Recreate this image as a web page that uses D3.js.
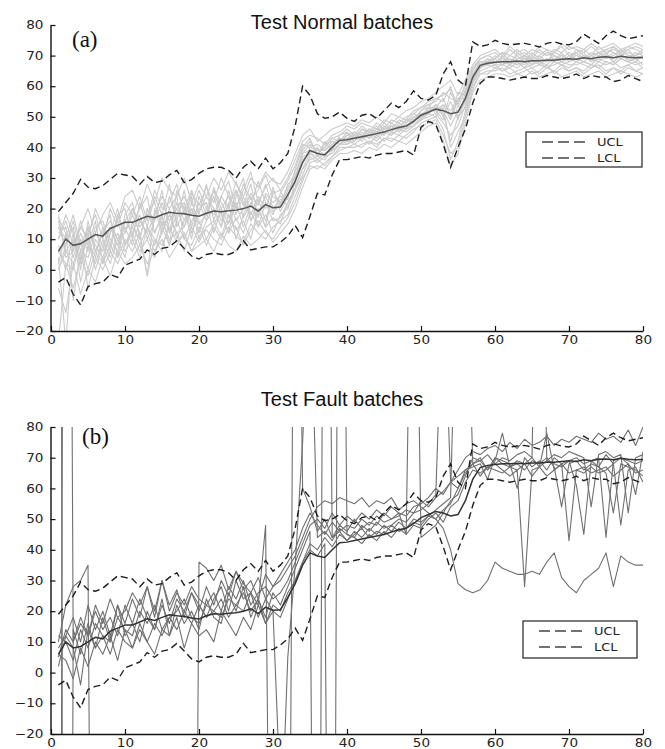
<!DOCTYPE html>
<html>
<head>
<meta charset="utf-8">
<script src="https://cdn.jsdelivr.net/npm/d3@7"></script>
<style>
  html, body { margin: 0; padding: 0; background: #fff; }
  svg { display: block; }
</style>
</head>
<body>
<svg id="chart" width="665" height="749"></svg>
<script>
// Sample index 1..80
const sampleIndex = d3.range(1, 81);
const xTicks = [0, 10, 20, 30, 40, 50, 60, 70, 80];
const yTicks = [-20, -10, 0, 10, 20, 30, 40, 50, 60, 70, 80];

// Mean trajectory of the reference batches
const meanTrajectory = [6,10,8,8.5,10,11.5,11,13.5,14.5,15.5, 15.5,16.5,17.5,17,18,18.8,18.5,18.3,17.8,17.5,
  18.5,19.2,19,19.3,19.5,20,20.8,19.2,21.3,20.3, 20.5,24.5,29,35,39,38,37.5,40,42.3,42.5,
  43,43.5,44,44.5,45,45.8,46.5,47,48.5,50.5, 51.5,52.5,52,51,51.5,56,63,66.8,67.5,67.8,
  68,68,68.2,68,68.3,68.3,68.5,68.5,68.8,69, 68.8,69.3,69,69.5,69.6,69.3,69.8,69.5,69.3,69.4];

// Upper and lower control limits
const ucl = [19,22,25,29.5,27,26.5,27.5,29.5,31.5,31, 30.5,28,30.5,28.5,29,31,32.5,28.5,29.5,31.5,
  33,33.5,33.5,32.5,30,33.5,35.5,33,36.5,33, 35,38,47,60,57,51,49.5,50,51.5,49.5,
  48.5,50.5,51,49.5,52,54.5,53,55,58.5,56, 55.5,57,64,68,62,60,74.5,73,73.5,75,
  74,73.5,73.8,74,73.5,72.8,74,74.5,73.8,73.5, 74.5,77,75.5,74,76.5,78,76.5,75.5,76,76.5];
const lcl = [-4,-2.5,-8,-11.5,-5.5,-4.5,-4,-1.5,-2.5,1.5, 2.5,3.5,6.5,5,7,7.5,9.5,7,4.5,3.5,
  5,5.5,5,5,6,9.5,6.5,7,7.5,7.5, 9,11,14.5,10.5,17.5,25,24.5,31,36,36,
  36.5,37,36.5,37.5,38,38,38.5,39,37.5,46.5, 48.5,47.5,41,33.5,40,46,54.5,61,63,63,
  62.5,62,62.5,63,62.5,62.5,63.5,63,62.5,63, 64,62.5,63.5,63,63,61.5,62,63.5,62.5,61.5];

// Normal test batches
const nb01 = [14,8,16,6,12,18,10,20,14,22, 18,24,16,26,20,22,28,18,25,21, 27,22,30,24,20,28,23,26,31,24,
  22,27,32,38,41,39,40,43,44,46, 44,47,45,48,46,49,48,50,51,53, 54,55,58,56,55,60,65,69,70,71,
  69,72,70,71,69,72,70,71,73,70, 71,72,70,73,71,72,71,73,72,71];
const nb02 = [-24,2,-6,4,-2,6,2,8,4,10, 6,12,-2,10,8,14,9,12,6,11, 13,10,8,14,11,9,15,12,10,14,
  16,18,24,30,34,33,35,37,40,40, 41,40,42,41,43,42,44,43,45,48, 49,50,46,36,42,52,60,64,65,65,
  66,64,65,66,64,65,67,64,66,65, 66,65,67,66,64,66,65,67,65,64];
const nb03 = [4,-24,10,2,14,8,4,12,16,8, 14,10,20,12,17,13,22,16,20,15, 18,24,16,21,26,17,22,18,24,19,
  21,26,30,36,38,40,37,41,43,42, 45,43,46,44,47,45,48,46,49,50, 52,54,50,55,49,58,64,67,68,69,
  67,69,68,67,70,68,67,69,68,70, 69,68,70,69,71,68,70,69,71,70];
const nb04 = [12,14,4,12,6,14,16,8,18,12, 20,14,18,22,14,24,16,26,14,22, 16,27,20,15,26,21,28,17,25,22,
  24,23,33,40,43,37,42,39,44,45, 43,46,44,47,44,48,46,49,48,52, 53,56,55,60,50,55,62,66,69,67,
  70,67,71,69,67,70,72,68,70,69, 70,71,68,70,72,71,69,70,70,72];
const nb05 = [8,0,12,-4,8,2,10,4,12,6, 10,4,14,8,16,10,12,6,14,9, 14,16,11,18,13,16,10,20,14,17,
  15,22,27,33,36,37,36,39,41,41, 42,44,41,44,42,45,44,46,47,49, 50,51,48,44,47,54,61,65,66,67,
  65,67,66,68,66,67,66,68,67,66, 68,67,66,68,67,68,66,67,68,66];
const nb06 = [16,6,2,10,0,10,6,14,8,16, 12,18,10,16,22,16,20,24,18,26, 20,18,24,20,29,22,18,24,20,27,
  19,24,31,35,40,41,39,42,41,44, 43,45,43,46,45,47,45,48,50,51, 52,53,56,50,58,57,64,68,68,70,
  68,70,69,70,68,69,71,70,69,71, 70,69,71,70,69,70,72,70,69,70];
const nb07 = [2,12,-10,6,4,12,8,2,10,14, 8,16,12,6,12,18,12,14,22,16, 10,15,19,12,17,12,19,14,18,12,
  18,20,26,31,37,35,37,38,41,43, 41,43,44,42,45,44,46,45,47,49, 51,50,53,40,45,50,63,66,67,66,
  67,66,68,66,67,68,66,67,68,67, 67,68,67,66,68,67,69,68,67,68];
const nb08 = [10,16,8,14,10,4,14,10,6,18, 22,10,20,16,26,12,18,22,12,19, 24,20,14,26,18,24,16,23,16,25,
  26,20,29,38,39,38,41,42,42,44, 45,44,46,45,48,46,49,48,51,50, 53,52,49,58,53,59,66,68,67,69,
  71,68,70,68,71,69,68,71,70,69, 72,70,69,71,70,73,70,71,70,69];
const nb09 = [0,8,14,0,16,6,12,16,10,12, 18,12,-2,20,12,20,24,10,16,20, 22,12,20,24,16,20,25,21,28,20,
  23,25,28,37,38,36,38,40,43,41, 44,42,45,43,46,47,45,47,48,51, 51,54,52,47,52,56,62,67,69,68,
  69,68,67,69,69,67,69,68,71,68, 69,70,68,69,70,69,71,68,70,71];
const nb10 = [18,4,6,16,8,16,2,12,20,8, 14,20,24,12,18,8,26,20,10,24, 18,26,22,17,22,14,21,29,22,18,
  25,29,34,41,40,39,39,41,42,45, 42,46,45,44,47,45,47,49,49,52, 54,51,54,52,56,58,64,67,68,68,
  68,69,67,70,69,70,68,69,69,69, 71,69,70,71,69,71,70,72,69,70];
const nb11 = [17,12,6,14,20,12,18,22,16,24, 26,20,28,22,30,26,24,30,22,28, 24,30,26,32,28,24,30,27,32,29,
  28,32,38,44,46,42,44,46,47,48, 47,49,48,50,48,51,50,52,53,55, 56,58,60,62,57,62,67,70,71,72,
  70,73,71,72,70,73,72,71,74,72, 73,72,74,72,73,74,72,73,74,73];
const nb12 = [-6,-14,2,-8,0,-4,4,-2,6,2, 4,8,2,6,10,4,8,12,6,8, 10,6,12,8,6,11,8,10,13,9,
  12,15,20,27,33,34,33,36,38,38, 39,38,40,39,41,40,42,41,43,45, 47,48,42,34,38,48,58,62,63,64,
  64,63,64,63,65,63,64,65,63,64, 65,63,64,65,63,64,65,64,63,64];
const nb13 = [10,18,12,4,10,20,14,6,18,20, 10,22,14,24,18,28,14,20,26,18, 28,16,24,29,20,26,32,22,27,30,
  26,30,36,42,44,43,41,44,45,47, 46,48,47,46,49,48,50,49,52,53, 55,56,57,59,54,61,66,69,70,69,
  71,70,72,70,72,71,70,72,71,73, 72,71,73,71,72,73,71,72,73,72];
const nb14 = [6,2,0,10,-6,4,0,6,2,8, 12,6,10,4,14,8,16,10,8,14, 8,14,10,16,14,8,13,16,12,10,
  14,17,22,29,35,36,34,37,39,40, 40,41,42,40,43,43,42,44,46,47, 48,49,44,38,40,50,59,64,64,66,
  65,66,64,65,66,64,66,65,67,65, 66,64,66,67,65,66,64,66,65,66];
const nb15 = [14,10,18,8,14,6,12,18,4,16, 20,16,12,18,24,20,10,16,24,12, 20,26,18,12,24,30,16,20,14,26,
  21,28,30,39,42,38,40,43,42,43, 44,43,46,45,44,47,47,46,50,49, 53,52,54,49,56,56,63,67,67,68,
  68,67,69,70,67,69,68,70,68,69, 68,70,69,68,70,68,70,69,68,70];
const nb16 = [0,6,10,2,12,0,8,14,10,4, 16,8,14,10,6,16,20,14,20,10, 16,20,14,22,10,18,24,14,22,16,
  17,22,26,33,38,37,38,39,41,42, 42,44,43,45,46,44,46,47,47,50, 51,53,51,42,50,53,61,66,68,67,
  67,68,68,66,69,67,69,68,67,68, 69,68,67,69,68,67,69,68,69,67];
const normalBatches = [nb01, nb02, nb03, nb04, nb05, nb06, nb07, nb08,
  nb09, nb10, nb11, nb12, nb13, nb14, nb15, nb16];

// Faulty test batches (large magnitudes run off the plotted range)
const fb01 = [8,12,18,10,22,14,20,12,22,16, 24,18,28,20,30,22,27,18,26,20, 28,22,30,25,33,27,30,24,32,28,
  30,34,38,44,50,54,56,55,57,56, 55,57,54,56,55,57,53,55,56,54, 52,50,47,40,29,27,26,27,30,36,
  34,33,32,32,33,32,36,39,31,28, 26,30,32,34,39,28,38,36,35,35];
const fb02 = [10,22,28,30,35,-300,-320,-310,-330,-300, -310,-320,-300,-330,-310,-300,-320,-310,-300,36,
  34,30,35,27,33,29,26,31,24,28, 32,36,40,47,52,48,45,49,46,48, 47,50,48,51,49,50,52,51,54,55,
  57,60,58,62,66,70,72,71,73,74, 72,75,73,76,74,75,77,74,76,75, 77,76,75,78,76,77,75,79,74,80];
const fb03 = [5,14,10,16,12,20,14,18,12,22, 16,24,18,14,22,16,24,20,26,22, 18,24,28,20,30,24,26,22,48,-200,
  -60,5,35,75,130,44,46,43,47,45, 44,48,46,49,47,48,50,49,52,53, 55,58,130,62,60,66,68,69,66,70,
  68,67,69,68,70,67,69,68,67,69, 70,68,69,67,71,68,70,69,68,69];
const fb04 = [2,12,8,-4,14,8,18,10,22,12, 16,10,20,14,24,12,22,16,20,14, 24,18,16,26,20,28,18,24,16,22,
  20,26,30,36,40,38,42,-300,300,45, 44,42,45,43,46,44,47,45,48,47, 50,52,49,54,56,62,66,65,67,68,
  66,64,66,28,66,67,64,66,68,65, 66,67,65,66,67,64,66,68,65,66];
const fb05 = [600,-600,14,6,16,8,12,6,14,10, 8,14,10,16,12,18,14,20,16,22, 18,20,24,18,22,26,20,24,18,26,
  22,28,34,40,46,-300,300,44,46,43, 45,47,44,46,45,48,46,47,49,48, 51,50,53,55,60,65,68,64,67,66,
  65,67,66,68,64,67,78,66,68,43, 66,65,67,65,66,68,48,66,67,62];
const fb06 = [-400,500,10,18,12,22,16,24,18,20, 26,22,28,18,30,20,26,22,28,24, 22,26,20,28,24,30,22,26,28,24,
  26,30,36,42,48,50,47,52,48,51, 49,52,50,53,51,54,52,45,200,44, 46,48,52,56,58,64,70,69,71,68,
  70,69,71,72,70,200,69,71,70,72, 71,70,54,71,72,70,71,52,70,71];
const fb07 = [6,4,-2,8,2,10,6,12,4,14, 8,16,10,6,14,12,18,8,16,12, 14,10,20,16,12,18,14,22,16,20,
  18,24,30,36,42,40,44,41,45,43, 46,44,47,45,48,46,49,47,50,49, 51,53,55,57,150,150,68,70,66,69,
  78,67,68,66,69,68,70,67,54,68, 69,66,68,67,65,52,68,67,66,64];
const fb08 = [12,10,4,14,8,16,12,10,18,14, 12,20,16,22,14,18,20,24,18,16, 22,20,18,24,22,20,26,18,24,20,
  -40,-200,250,60,54,46,50,44,48,46, 50,47,49,48,52,50,51,53,52,56, 54,57,59,62,64,66,67,68,63,70,
  69,68,60,70,67,69,66,70,68,69, 61,45,69,70,44,69,70,68,58,72];
const faultBatches = [fb01, fb02, fb03, fb04, fb05, fb06, fb07, fb08];

const svg = d3.select("#chart");
const x = d3.scaleLinear().domain([0, 80]).range([51, 643]);

function drawPanel(cfg) {
  const y = d3.scaleLinear().domain([-20, 80]).range([cfg.bottom, cfg.top]);
  const g = svg.append("g");
  const clipId = "clip-" + cfg.id;
  svg.append("defs").append("clipPath").attr("id", clipId)
    .append("rect").attr("x", x(0)).attr("y", cfg.top)
    .attr("width", x(80) - x(0)).attr("height", cfg.bottom - cfg.top);

  const line = d3.line().x((d, i) => x(sampleIndex[i])).y(d => y(d));
  const plot = g.append("g").attr("clip-path", `url(#${clipId})`);

  cfg.batches.forEach(b => {
    plot.append("path").attr("d", line(b)).attr("fill", "none")
      .attr("stroke", cfg.batchColor).attr("stroke-width", cfg.batchWidth)
      .attr("stroke-linejoin", "round");
  });
  plot.append("path").attr("d", line(meanTrajectory)).attr("fill", "none")
    .attr("stroke", cfg.meanColor).attr("stroke-width", 1.5);
  [ucl, lcl].forEach(lim => {
    plot.append("path").attr("d", line(lim)).attr("fill", "none")
      .attr("stroke", "#1e1e1e").attr("stroke-width", 1.4)
      .attr("stroke-dasharray", "7,4");
  });

  // Axes with inward ticks
  const yAxis = d3.axisLeft(y).tickValues(yTicks).tickSize(-5).tickSizeOuter(0).tickPadding(7);
  const xAxis = d3.axisBottom(x).tickValues(xTicks).tickSize(-5).tickSizeOuter(0).tickPadding(5);
  const ya = g.append("g").attr("transform", `translate(${x(0) - 0.5},0)`).call(yAxis);
  const xa = g.append("g").attr("transform", `translate(0,${cfg.bottom})`).call(xAxis);
  [ya, xa].forEach(a => {
    a.selectAll("path.domain").attr("stroke", "#111").attr("stroke-width", 1.4);
    a.selectAll(".tick line").attr("stroke", "#111").attr("stroke-width", 1.2);
    a.selectAll("text").attr("font-family", "'DejaVu Sans', sans-serif")
      .attr("font-size", 11.5).attr("fill", "#222");
  });
  // slightly widened tick numerals
  ya.selectAll("text").each(function() {
    const t = d3.select(this);
    const tx = +t.attr("x");
    t.attr("x", 0).attr("transform", `translate(${tx},0) scale(1.18,1)`);
  });
  xa.selectAll("text").attr("transform", "scale(1.18,1)")
    .attr("x", function() { return 0; });

  // Title and panel label
  g.append("text").attr("x", 342).attr("y", cfg.titleY).attr("text-anchor", "middle")
    .attr("font-family", "'Liberation Sans', Arial, sans-serif").attr("font-size", 20)
    .attr("fill", "#111").text(cfg.title);
  g.append("text").attr("x", cfg.labelX).attr("y", cfg.labelY)
    .attr("font-family", "'Liberation Serif', 'Times New Roman', serif").attr("font-size", 23)
    .attr("fill", "#111").text(cfg.label);

  // Legend
  const lg = g.append("g");
  lg.append("rect").attr("x", cfg.legend.x).attr("y", cfg.legend.y)
    .attr("width", cfg.legend.w).attr("height", cfg.legend.h)
    .attr("fill", "#fff").attr("stroke", "#222").attr("stroke-width", 1.2);
  ["UCL", "LCL"].forEach((name, i) => {
    const ly = cfg.legend.y + 10 + i * 16;
    lg.append("line").attr("x1", cfg.legend.x + 16).attr("x2", cfg.legend.x + 64)
      .attr("y1", ly).attr("y2", ly).attr("stroke", "#444").attr("stroke-width", 1.3)
      .attr("stroke-dasharray", "11,5");
    lg.append("text").attr("x", 0).attr("y", 0)
      .attr("transform", `translate(${cfg.legend.x + 71},${ly + 4}) scale(1.18,1)`)
      .attr("font-family", "'DejaVu Sans', sans-serif").attr("font-size", 11)
      .attr("fill", "#222").text(name);
  });
}

drawPanel({
  id: "a", top: 25, bottom: 331, batches: normalBatches,
  batchColor: "#cbcbcb", batchWidth: 1.1, meanColor: "#555",
  title: "Test Normal batches", titleY: 29, label: "(a)", labelX: 72, labelY: 47,
  legend: { x: 526, y: 132, w: 116, h: 35 }
});
drawPanel({
  id: "b", top: 427, bottom: 734, batches: faultBatches,
  batchColor: "#707070", batchWidth: 1.1, meanColor: "#333",
  title: "Test Fault batches", titleY: 406, label: "(b)", labelX: 82, labelY: 444,
  legend: { x: 523, y: 621, w: 114, h: 37 }
});
</script>
</body>
</html>
